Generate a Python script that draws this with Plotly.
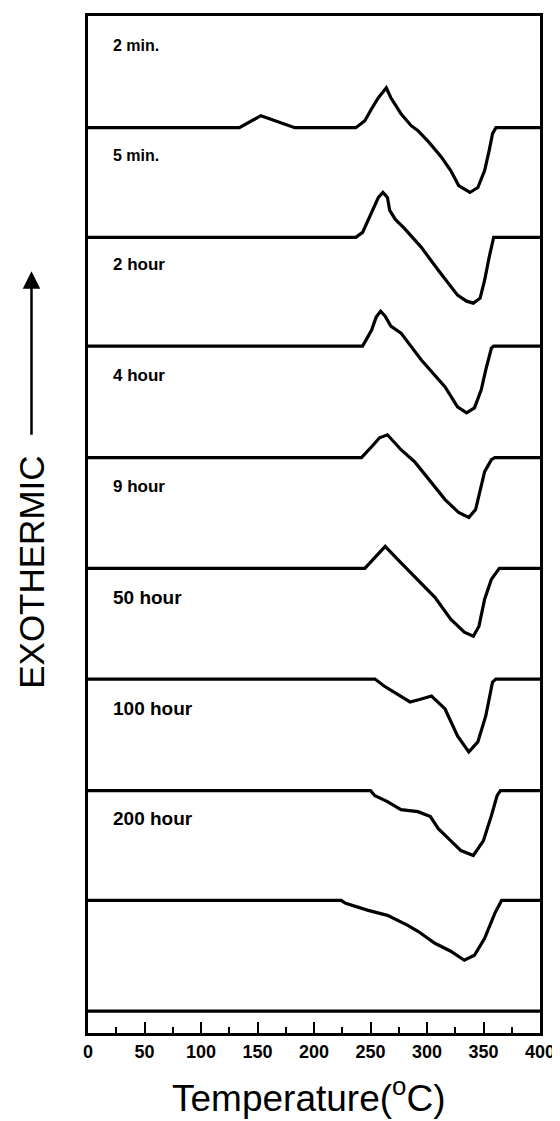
import plotly.graph_objects as go

# ---- data (temperature in deg C, deviation from each trace's baseline in arbitrary units) ----
LABELS = ["2 min.", "5 min.", "2 hour", "4 hour", "9 hour", "50 hour", "100 hour", "200 hour"]
LABEL_SIZES = [16, 16, 17, 17, 17, 19, 19, 19]
OFFSETS = [88.6, 77.6, 66.7, 55.5, 44.4, 33.3, 22.1, 11.1, 0.0]

T_2MIN = [0, 134, 153, 171, 183, 237, 245, 251, 257, 264, 268, 277, 286, 292, 302, 313, 321, 328, 338, 345, 351, 355, 358, 361, 400]
D_2MIN = [0, 0, 1.2, 0.5, 0, 0, 0.7, 1.9, 3.0, 4.0, 3.0, 1.4, 0.2, -0.3, -1.5, -3.0, -4.3, -5.8, -6.5, -6.0, -4.3, -2.3, -0.6, 0, 0]

T_5MIN = [0, 237, 243, 248, 257, 261, 265, 267, 272, 280, 295, 310, 327, 335, 341, 347, 351, 355, 359, 400]
D_5MIN = [0, 0, 0.5, 1.7, 4.0, 4.5, 4.0, 2.7, 1.8, 0.9, -1.0, -3.3, -5.8, -6.4, -6.6, -6.1, -4.3, -2.0, 0, 0]

T_2H = [0, 243, 251, 255, 259, 263, 268, 277, 295, 316, 327, 335, 342, 348, 352, 357, 359, 400]
D_2H = [0, 0, 1.6, 2.9, 3.5, 3.0, 2.0, 1.3, -1.4, -4.1, -6.1, -6.7, -6.2, -4.4, -2.4, -0.2, 0, 0]

T_4H = [0, 242, 251, 258, 265, 277, 289, 304, 316, 328, 337, 343, 347, 351, 357, 360, 400]
D_4H = [0, 0, 1.1, 2.0, 2.3, 0.8, -0.4, -2.5, -4.2, -5.5, -6.0, -5.2, -3.2, -1.4, -0.2, 0, 0]

T_9H = [0, 245, 254, 263, 274, 289, 307, 321, 333, 341, 346, 351, 357, 364, 400]
D_9H = [0, 0, 1.1, 2.2, 0.9, -0.8, -2.9, -5.1, -6.4, -6.8, -5.8, -3.1, -1.1, 0, 0]

T_50H = [0, 254, 262, 277, 285, 295, 304, 316, 327, 337, 345, 352, 358, 361, 400]
D_50H = [0, 0, -0.7, -1.8, -2.3, -2.0, -1.7, -3.0, -5.7, -7.3, -6.3, -3.7, -0.3, 0, 0]

T_100H = [0, 250, 254, 265, 277, 292, 303, 310, 320, 330, 341, 350, 357, 362, 365, 400]
D_100H = [0, 0, -0.5, -1.1, -1.9, -2.1, -2.6, -3.8, -4.9, -6.0, -6.5, -5.0, -2.5, -0.5, 0, 0]

T_200H = [0, 224, 228, 248, 265, 283, 292, 307, 321, 333, 342, 351, 360, 366, 400]
D_200H = [0, 0, -0.3, -1.0, -1.5, -2.5, -3.1, -4.3, -5.1, -6.0, -5.5, -3.8, -1.3, 0, 0]

T_REF = [0, 400]
D_REF = [0, 0]

X_TICKS = [0, 50, 100, 150, 200, 250, 300, 350, 400]

SERIES = [
    (T_2MIN, D_2MIN), (T_5MIN, D_5MIN), (T_2H, D_2H), (T_4H, D_4H), (T_9H, D_9H),
    (T_50H, D_50H), (T_100H, D_100H), (T_200H, D_200H), (T_REF, D_REF),
]

FONT = "Liberation Sans, Arial, sans-serif"

fig = go.Figure()
for (t, d), off in zip(SERIES, OFFSETS):
    fig.add_trace(go.Scatter(
        x=t, y=[off + v for v in d], mode="lines",
        line=dict(color="black", width=3.2),
        showlegend=False, hoverinfo="skip",
    ))

# curve labels
for lab, size, off in zip(LABELS, LABEL_SIZES, OFFSETS):
    fig.add_annotation(
        x=20, y=off + 8.2, xref="x", yref="y", text=lab, showarrow=False,
        xanchor="left", yanchor="middle",
        font=dict(family=FONT, size=size, color="black", weight="bold"),
    )

# exothermic arrow + label
fig.add_annotation(
    x=-0.125, y=0.749, xref="paper", yref="paper", text="",
    showarrow=True, ax=0, ay=165, axref="pixel", ayref="pixel",
    arrowhead=2, arrowsize=1.4, arrowwidth=2.5, arrowcolor="black",
)
fig.add_annotation(
    x=-0.125, y=0.453, xref="paper", yref="paper", text="EXOTHERMIC",
    showarrow=False, textangle=-90, xanchor="center", yanchor="middle",
    font=dict(family=FONT, size=35, color="black"),
)

# x-axis title
fig.add_annotation(
    x=0.487, y=-0.061, xref="paper", yref="paper",
    text="Temperature(<sup>o</sup>C)", showarrow=False,
    xanchor="center", yanchor="middle",
    font=dict(family=FONT, size=37, color="black"),
)

fig.update_xaxes(
    range=[0, 400], tickvals=X_TICKS, ticktext=[str(v) for v in X_TICKS],
    ticks="inside", ticklen=11, tickwidth=2, tickcolor="black",
    minor=dict(dtick=25, ticks="inside", ticklen=6, tickwidth=2, tickcolor="black"),
    showline=True, linewidth=2.8, linecolor="black", mirror=True,
    showgrid=False, zeroline=False,
    tickfont=dict(family=FONT, size=18, color="black", weight="bold"),
)
fig.update_yaxes(
    range=[-2.2, 99.8], showticklabels=False, ticks="",
    showline=True, linewidth=2.8, linecolor="black", mirror=True,
    showgrid=False, zeroline=False,
)

fig.update_layout(
    width=560, height=1121,
    margin=dict(l=80, r=28, t=5, b=96),
    paper_bgcolor="white", plot_bgcolor="white",
)

fig.write_html("out.html")
